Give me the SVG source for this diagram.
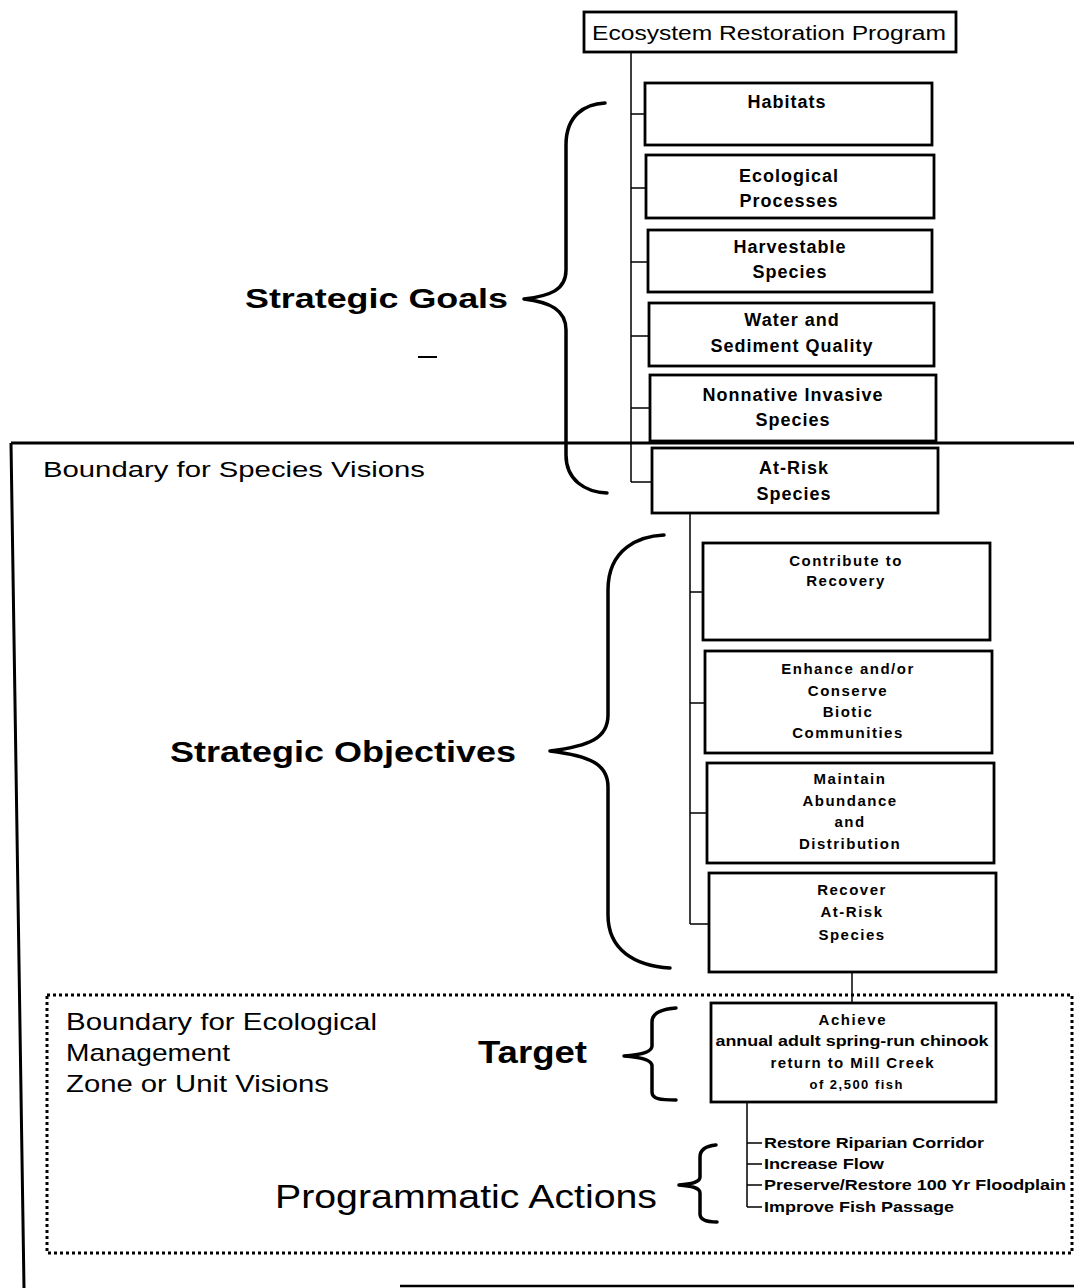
<svg xmlns="http://www.w3.org/2000/svg" width="1074" height="1288" viewBox="0 0 1074 1288">
<style>
.box{fill:#fff;stroke:#000;stroke-width:2.8}
.ln{fill:none;stroke:#000;stroke-width:1.5}
.br{fill:none;stroke:#000;stroke-width:3.5;stroke-linecap:round;stroke-linejoin:round}
.t{font-family:"Liberation Sans",Arial,sans-serif;fill:#000;text-anchor:middle}
.gb{font-size:18px;font-weight:bold;letter-spacing:1px}
.ob{font-size:15px;font-weight:bold;letter-spacing:1.5px}
.big{font-family:"Liberation Sans",Arial,sans-serif;font-weight:bold;fill:#000}
.lab{font-family:"Liberation Sans",Arial,sans-serif;fill:#000}
.act{font-family:"Liberation Sans",Arial,sans-serif;font-weight:bold;fill:#000;font-size:15px}
</style>
<rect width="1074" height="1288" fill="#fff"/>
<g id="boundaries">
<path d="M11,443 H1074 M11,443 L24,1288" fill="none" stroke="#000" stroke-width="3"/>
<line x1="400" y1="1286" x2="1074" y2="1286" stroke="#000" stroke-width="2.5"/>
<rect x="47" y="995" width="1025" height="258" fill="none" stroke="#000" stroke-width="3" stroke-dasharray="3,3"/>
<line x1="418" y1="357" x2="437" y2="357" stroke="#000" stroke-width="2"/>
</g>
<g id="connectors">
<path class="ln" d="M631,52 V482 M631,114 H645 M631,188 H646 M631,262 H648 M631,336 H649 M631,408 H650 M631,482 H652"/>
<path class="ln" d="M690,513 V924 M690,592 H703 M690,703 H705 M690,813 H707 M690,924 H709"/>
<path class="ln" d="M852,972 V1003"/>
<path class="ln" d="M747,1102 V1207 M747,1143 H762 M747,1164 H762 M747,1185 H762 M747,1207 H762"/>
</g>
<g id="braces">
<path class="br" d="M605,103 C585,104 566,115 566,145 V270 C566,290 550,296 524,299 C550,302 566,310 566,330 V455 C566,480 585,492 607,493"/>
<path class="br" d="M664,535 C640,536 608,548 608,590 V715 C608,738 590,746 550,751 C590,756 608,764 608,787 V915 C608,950 635,966 670,968"/>
<path class="br" d="M676,1008 C662,1009 652,1013 652,1022 V1046 C652,1052 640,1055 624,1056 C640,1057 652,1060 652,1066 V1092 C652,1099 660,1100 676,1100"/>
<path class="br" d="M716,1145 C706,1146 700,1150 700,1157 V1177 C700,1182 692,1184 679,1185 C692,1186 700,1188 700,1193 V1214 C700,1220 706,1222 717,1222"/>
</g>
<g id="root">
<rect class="box" x="584" y="12" width="372" height="40"/>
<text class="t" x="769" y="40" font-size="20" textLength="354" lengthAdjust="spacingAndGlyphs">Ecosystem Restoration Program</text>
</g>
<g id="habitats"><rect class="box" x="645" y="83" width="287" height="62"/><text class="t gb" x="787" y="108">Habitats</text></g>
<g id="eco"><rect class="box" x="646" y="155" width="288" height="63"/><text class="t gb" x="789" y="182">Ecological</text><text class="t gb" x="789" y="207">Processes</text></g>
<g id="harvest"><rect class="box" x="648" y="230" width="284" height="62"/><text class="t gb" x="790" y="253">Harvestable</text><text class="t gb" x="790" y="278">Species</text></g>
<g id="water"><rect class="box" x="649" y="303" width="285" height="63"/><text class="t gb" x="792" y="326">Water and</text><text class="t gb" x="792" y="352">Sediment Quality</text></g>
<g id="nonnative"><rect class="box" x="650" y="375" width="286" height="66"/><text class="t gb" x="793" y="401">Nonnative Invasive</text><text class="t gb" x="793" y="426">Species</text></g>
<g id="atrisk"><rect class="box" x="652" y="448" width="286" height="65"/><text class="t gb" x="794" y="474">At-Risk</text><text class="t gb" x="794" y="500">Species</text></g>
<g id="contribute"><rect class="box" x="703" y="543" width="287" height="97"/><text class="t ob" x="846" y="566">Contribute to</text><text class="t ob" x="846" y="586">Recovery</text></g>
<g id="enhance"><rect class="box" x="705" y="651" width="287" height="102"/><text class="t ob" x="848" y="674">Enhance and/or</text><text class="t ob" x="848" y="696">Conserve</text><text class="t ob" x="848" y="717">Biotic</text><text class="t ob" x="848" y="738">Communities</text></g>
<g id="maintain"><rect class="box" x="707" y="763" width="287" height="100"/><text class="t ob" x="850" y="784">Maintain</text><text class="t ob" x="850" y="806">Abundance</text><text class="t ob" x="850" y="827">and</text><text class="t ob" x="850" y="849">Distribution</text></g>
<g id="recover"><rect class="box" x="709" y="873" width="287" height="99"/><text class="t ob" x="852" y="895">Recover</text><text class="t ob" x="852" y="917">At-Risk</text><text class="t ob" x="852" y="940">Species</text></g>
<g id="achieve"><rect class="box" x="711" y="1003" width="285" height="99"/>
<text class="t" x="852" y="1025" font-size="15" font-weight="bold" textLength="67" lengthAdjust="spacing">Achieve</text>
<text class="t" x="852" y="1046" font-size="15" font-weight="bold" textLength="273" lengthAdjust="spacingAndGlyphs">annual adult spring-run chinook</text>
<text class="t" x="852" y="1068" font-size="15" font-weight="bold" textLength="163" lengthAdjust="spacing">return to Mill Creek</text>
<text class="t" x="856" y="1089" font-size="13" font-weight="bold" textLength="93" lengthAdjust="spacing">of 2,500 fish</text></g>
<g id="actions">
<text class="act" x="764" y="1148" textLength="220" lengthAdjust="spacingAndGlyphs">Restore Riparian Corridor</text>
<text class="act" x="764" y="1169" textLength="120" lengthAdjust="spacingAndGlyphs">Increase Flow</text>
<text class="act" x="764" y="1190" textLength="302" lengthAdjust="spacingAndGlyphs">Preserve/Restore 100 Yr Floodplain</text>
<text class="act" x="764" y="1212" textLength="190" lengthAdjust="spacingAndGlyphs">Improve Fish Passage</text>
</g>
<g id="labels">
<text class="big" x="245" y="308" font-size="28" textLength="263" lengthAdjust="spacingAndGlyphs">Strategic Goals</text>
<text class="big" x="170" y="762" font-size="30" textLength="346" lengthAdjust="spacingAndGlyphs">Strategic Objectives</text>
<text class="big" x="478" y="1063" font-size="31" textLength="109" lengthAdjust="spacingAndGlyphs">Target</text>
<text class="lab" x="275" y="1208" font-size="34" textLength="382" lengthAdjust="spacingAndGlyphs">Programmatic Actions</text>
<text class="lab" x="43" y="477" font-size="22" textLength="382" lengthAdjust="spacingAndGlyphs">Boundary for Species Visions</text>
<text class="lab" x="66" y="1030" font-size="24" textLength="311" lengthAdjust="spacingAndGlyphs">Boundary for Ecological</text>
<text class="lab" x="66" y="1061" font-size="24" textLength="164" lengthAdjust="spacingAndGlyphs">Management</text>
<text class="lab" x="66" y="1092" font-size="24" textLength="263" lengthAdjust="spacingAndGlyphs">Zone or Unit Visions</text>
</g>
</svg>
